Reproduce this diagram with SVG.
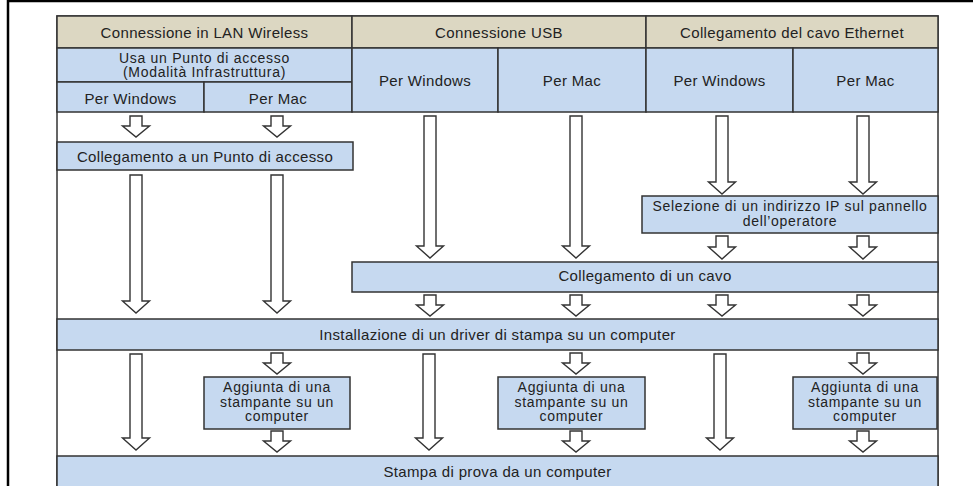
<svg xmlns="http://www.w3.org/2000/svg" width="973" height="486" viewBox="0 0 973 486">
<style>
  text { font-family: "Liberation Sans", Arial, sans-serif; font-size: 15px; fill: #222; text-anchor: middle; letter-spacing: 0.35px; }
  text.ml { font-size: 14px; letter-spacing: 0.7px; }
  .hdr { fill: #DCD7C2; stroke: #333; stroke-width: 1.5; }
  .blue { fill: #C6D9F0; stroke: #333; stroke-width: 1.5; }
  .arrow { fill: #fff; stroke: #333; stroke-width: 1.4; stroke-linejoin: miter; }
  .frame { fill: none; stroke: #000; }
</style>
<rect x="0" y="0" width="973" height="486" fill="#fff"/>
<line class="frame" x1="8" y1="1" x2="973" y2="1" stroke-width="2.5"/>
<line class="frame" x1="8" y1="0" x2="8" y2="486" stroke-width="2.5"/>
<rect x="57" y="16" width="881" height="480" fill="#fff" stroke="#333" stroke-width="1.5"/>

<g id="hdr-lan"><rect class="hdr" x="57" y="16" width="295" height="32"/><text x="204.5" y="38">Connessione in LAN Wireless</text></g>
<g id="hdr-usb"><rect class="hdr" x="352" y="16" width="294" height="32"/><text x="499" y="38">Connessione USB</text></g>
<g id="hdr-eth"><rect class="hdr" x="646" y="16" width="292" height="32"/><text x="792" y="38">Collegamento del cavo Ethernet</text></g>

<g id="lan-ap"><rect class="blue" x="57" y="48" width="295" height="34"/><text class="ml" x="204.5" y="62.5">Usa un Punto di accesso</text><text class="ml" x="204.5" y="77">(Modalità Infrastruttura)</text></g>
<g id="lan-win"><rect class="blue" x="57" y="82" width="147" height="30"/><text x="130.5" y="104">Per Windows</text></g>
<g id="lan-mac"><rect class="blue" x="204" y="82" width="148" height="30"/><text x="278" y="104">Per Mac</text></g>
<g id="usb-win"><rect class="blue" x="352" y="48" width="146" height="64"/><text x="425" y="86">Per Windows</text></g>
<g id="usb-mac"><rect class="blue" x="498" y="48" width="148" height="64"/><text x="572" y="86">Per Mac</text></g>
<g id="eth-win"><rect class="blue" x="646" y="48" width="147" height="64"/><text x="719.5" y="86">Per Windows</text></g>
<g id="eth-mac"><rect class="blue" x="793" y="48" width="145" height="64"/><text x="865.5" y="86">Per Mac</text></g>

<g id="ap-connect"><rect class="blue" x="57" y="142" width="296" height="28"/><text x="205" y="162">Collegamento a un Punto di accesso</text></g>
<g id="ip-select"><rect class="blue" x="642" y="196" width="296" height="37"/><text class="ml" x="790" y="211">Selezione di un indirizzo IP sul pannello</text><text class="ml" x="790" y="225.5">dell’operatore</text></g>
<g id="cable"><rect class="blue" x="352" y="262" width="586" height="30"/><text x="645" y="281">Collegamento di un cavo</text></g>
<g id="driver"><rect class="blue" x="57" y="319" width="881" height="31"/><text x="497.5" y="340">Installazione di un driver di stampa su un computer</text></g>
<g id="add-lan"><rect class="blue" x="204" y="377" width="146" height="52"/><text class="ml" x="277" y="392">Aggiunta di una</text><text class="ml" x="277" y="406.5">stampante su un</text><text class="ml" x="277" y="421">computer</text></g>
<g id="add-usb"><rect class="blue" x="498" y="377" width="147" height="52"/><text class="ml" x="571.5" y="392">Aggiunta di una</text><text class="ml" x="571.5" y="406.5">stampante su un</text><text class="ml" x="571.5" y="421">computer</text></g>
<g id="add-eth"><rect class="blue" x="793" y="377" width="144" height="52"/><text class="ml" x="865" y="392">Aggiunta di una</text><text class="ml" x="865" y="406.5">stampante su un</text><text class="ml" x="865" y="421">computer</text></g>
<g id="test-print"><rect class="blue" x="57" y="456" width="881" height="40"/><text x="497.5" y="477">Stampa di prova da un computer</text></g>

<g id="connectors">
  <path class="arrow" d="M130,116 H142 V126 H149.5 L136,137 L122.5,126 H130 Z"/>
  <path class="arrow" d="M271,116 H283 V126 H290.5 L277,137 L263.5,126 H271 Z"/>
  <path class="arrow" d="M130,175 H142 V301 H149.5 L136,313 L122.5,301 H130 Z"/>
  <path class="arrow" d="M271,175 H283 V301 H290.5 L277,313 L263.5,301 H271 Z"/>
  <path class="arrow" d="M424,116 H436 V246 H443.5 L430,258 L416.5,246 H424 Z"/>
  <path class="arrow" d="M570,116 H582 V246 H589.5 L576,258 L562.5,246 H570 Z"/>
  <path class="arrow" d="M716,116 H728 V182 H735.5 L722,194 L708.5,182 H716 Z"/>
  <path class="arrow" d="M857,116 H869 V182 H876.5 L863,194 L849.5,182 H857 Z"/>
  <path class="arrow" d="M716,236 H728 V247 H735.5 L722,259 L708.5,247 H716 Z"/>
  <path class="arrow" d="M857,236 H869 V247 H876.5 L863,259 L849.5,247 H857 Z"/>
  <path class="arrow" d="M424,295 H436 V305 H443.5 L430,316 L416.5,305 H424 Z"/>
  <path class="arrow" d="M570,295 H582 V305 H589.5 L576,316 L562.5,305 H570 Z"/>
  <path class="arrow" d="M716,295 H728 V305 H735.5 L722,316 L708.5,305 H716 Z"/>
  <path class="arrow" d="M857,295 H869 V305 H876.5 L863,316 L849.5,305 H857 Z"/>
  <path class="arrow" d="M130,354 H142 V438 H149.5 L136,450 L122.5,438 H130 Z"/>
  <path class="arrow" d="M423,354 H435 V438 H442.5 L429,450 L415.5,438 H423 Z"/>
  <path class="arrow" d="M714,354 H726 V438 H733.5 L720,450 L706.5,438 H714 Z"/>
  <path class="arrow" d="M271,353 H283 V363 H290.5 L277,374 L263.5,363 H271 Z"/>
  <path class="arrow" d="M570,353 H582 V363 H589.5 L576,374 L562.5,363 H570 Z"/>
  <path class="arrow" d="M857,353 H869 V363 H876.5 L863,374 L849.5,363 H857 Z"/>
  <path class="arrow" d="M271,431 H283 V441 H290.5 L277,452 L263.5,441 H271 Z"/>
  <path class="arrow" d="M570,431 H582 V441 H589.5 L576,452 L562.5,441 H570 Z"/>
  <path class="arrow" d="M857,431 H869 V441 H876.5 L863,452 L849.5,441 H857 Z"/>
</g>
</svg>
